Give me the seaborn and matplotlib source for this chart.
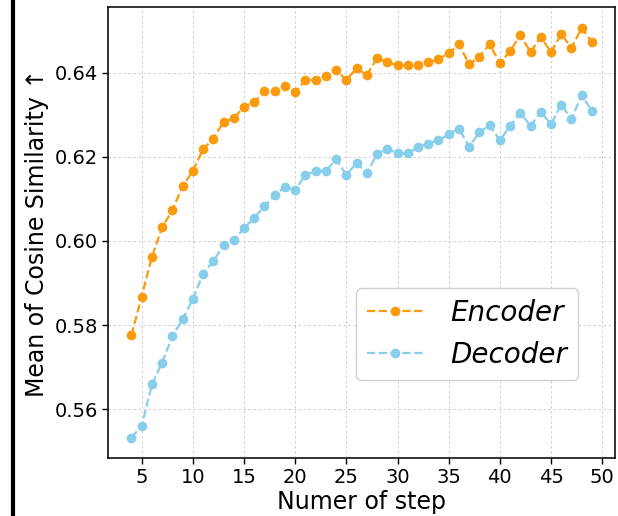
import numpy as np
import pandas as pd
import seaborn as sns
import matplotlib.pyplot as plt
from matplotlib.lines import Line2D

steps = list(range(4, 50))

encoder = [0.5776, 0.5868, 0.5962, 0.6032, 0.6073, 0.6130, 0.6166, 0.6218,
           0.6243, 0.6283, 0.6291, 0.6319, 0.6329, 0.6356, 0.6356, 0.6367,
           0.6354, 0.6382, 0.6382, 0.6391, 0.6407, 0.6382, 0.6410, 0.6394,
           0.6434, 0.6425, 0.6417, 0.6417, 0.6418, 0.6424, 0.6432, 0.6446,
           0.6467, 0.6420, 0.6438, 0.6467, 0.6423, 0.6451, 0.6489, 0.6449,
           0.6484, 0.6449, 0.6491, 0.6459, 0.6506, 0.6472]

decoder = [0.5533, 0.5560, 0.5659, 0.5711, 0.5774, 0.5814, 0.5861, 0.5922,
           0.5952, 0.5990, 0.6002, 0.6030, 0.6055, 0.6082, 0.6108, 0.6129,
           0.6121, 0.6157, 0.6166, 0.6166, 0.6194, 0.6157, 0.6185, 0.6161,
           0.6206, 0.6219, 0.6208, 0.6208, 0.6223, 0.6231, 0.6239, 0.6253,
           0.6267, 0.6224, 0.6258, 0.6275, 0.6239, 0.6273, 0.6305, 0.6273,
           0.6307, 0.6277, 0.6324, 0.6290, 0.6346, 0.6309]

labels = ['Encoder', 'Decoder']
colors = ['#FA9A0C', '#87CEEB']

sns.set_style('ticks')
plt.rcParams['font.family'] = ['DejaVu Sans']
plt.rcParams['text.color'] = 'black'
plt.rcParams['axes.labelcolor'] = 'black'
plt.rcParams['xtick.color'] = 'black'
plt.rcParams['ytick.color'] = 'black'

fig = plt.figure(figsize=(6.18, 5.16), dpi=100)
ax = fig.add_axes([0.1754, 0.1124, 0.8197, 0.8731])

for vals, lab, col in zip([encoder, decoder], labels, colors):
    sns.lineplot(x=steps, y=vals, ax=ax, color=col, label=lab,
                 linestyle='--', linewidth=1.6, marker='o', markersize=7,
                 markeredgewidth=0)

ax.set_xticks(range(5, 51, 5))
ax.set_yticks([0.56, 0.58, 0.60, 0.62, 0.64])
ax.tick_params(labelsize=14, length=4, width=1)
ax.grid(True, linestyle=(0, (3, 3)), linewidth=0.6, color='#c8c8c8')
for s in ax.spines.values():
    s.set_color('#111111')
    s.set_linewidth(1.2)

ax.set_xlabel('Numer of step', fontsize=17, labelpad=2)
ax.set_ylabel('Mean of Cosine Similarity \u2191', fontsize=17, labelpad=4)

ax.legend(loc='center right', bbox_to_anchor=(0.928, 0.275), borderaxespad=0,
          prop={'style': 'italic', 'size': 20}, frameon=True,
          handletextpad=1.0, edgecolor='#d0d0d0', framealpha=1)

# black separator left of the panel (cropped from a larger figure)
fig.add_artist(Line2D([0.021, 0.021], [0, 1], color='black', linewidth=3))

fig.savefig('out.png', dpi=100)
